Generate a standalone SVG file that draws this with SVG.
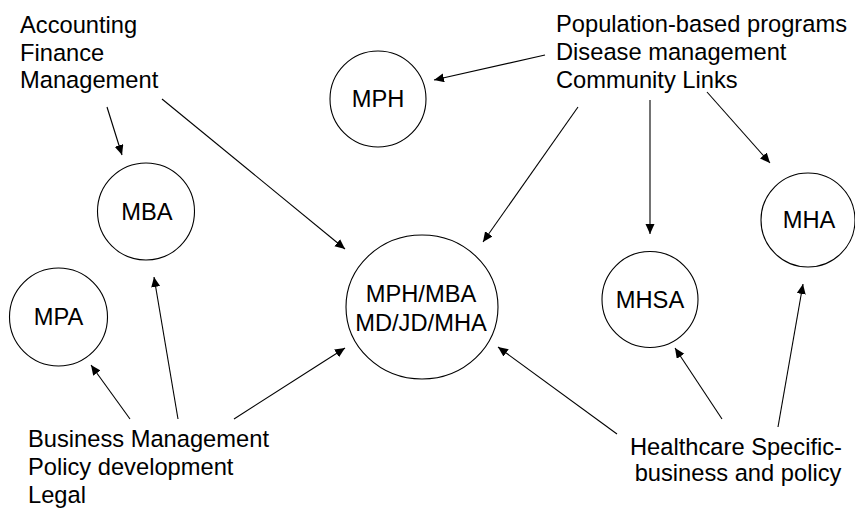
<svg xmlns="http://www.w3.org/2000/svg" width="855" height="510" viewBox="0 0 855 510">
<style>
.bg{fill:#ffffff}
.node circle,.node ellipse{fill:#ffffff;stroke:#000000;stroke-width:1.1}
text{font-family:"Liberation Sans",Arial,sans-serif;font-size:23.7px;fill:#000000}
.c{text-anchor:middle}
.edges line{stroke:#000000;stroke-width:1.1;marker-end:url(#ah)}
</style>
<defs>
<marker id="ah" markerUnits="userSpaceOnUse" markerWidth="12" markerHeight="10" refX="10" refY="4.5" orient="auto">
<path d="M0,0 L10,4.5 L0,9 Z" fill="#000000"/>
</marker>
</defs>
<rect class="bg" x="0" y="0" width="855" height="510"/>
<g id="label-accounting">
<text x="20" y="33">Accounting</text>
<text x="20" y="60.5">Finance</text>
<text x="20" y="88">Management</text>
</g>
<g id="label-population">
<text x="556" y="32">Population-based programs</text>
<text x="556" y="60">Disease management</text>
<text x="556" y="88">Community Links</text>
</g>
<g id="label-business">
<text x="28" y="447">Business Management</text>
<text x="28" y="475">Policy development</text>
<text x="28" y="503">Legal</text>
</g>
<g id="label-healthcare">
<text class="c" x="736" y="455">Healthcare Specific-</text>
<text class="c" x="738" y="481">business and policy</text>
</g>
<g id="node-mph" class="node">
<circle cx="378" cy="99" r="48"/>
<text class="c" x="378" y="107">MPH</text>
</g>
<g id="node-mba" class="node">
<circle cx="146" cy="211.5" r="48.5"/>
<text class="c" x="147" y="220">MBA</text>
</g>
<g id="node-mpa" class="node">
<circle cx="58.5" cy="317" r="49"/>
<text class="c" x="58.5" y="325">MPA</text>
</g>
<g id="node-center" class="node">
<ellipse cx="422" cy="307" rx="76" ry="72"/>
<text class="c" x="421" y="302">MPH/MBA</text>
<text class="c" x="421" y="331">MD/JD/MHA</text>
</g>
<g id="node-mhsa" class="node">
<circle cx="650" cy="299.5" r="48"/>
<text class="c" x="650" y="308">MHSA</text>
</g>
<g id="node-mha" class="node">
<circle cx="808" cy="220" r="47"/>
<text class="c" x="809" y="228">MHA</text>
</g>
<g id="connectors" class="edges">
<line x1="107" y1="107" x2="122" y2="155"/>
<line x1="162" y1="99" x2="345" y2="249"/>
<line x1="545" y1="55" x2="434" y2="80"/>
<line x1="578" y1="107" x2="483" y2="242"/>
<line x1="650" y1="100" x2="650" y2="234"/>
<line x1="707" y1="92" x2="770" y2="163"/>
<line x1="130" y1="419" x2="91" y2="365"/>
<line x1="178" y1="419" x2="154" y2="277"/>
<line x1="234" y1="419" x2="345" y2="348"/>
<line x1="617" y1="434" x2="498" y2="347"/>
<line x1="722" y1="419" x2="675" y2="348"/>
<line x1="778" y1="427" x2="803" y2="284"/>
</g>
</svg>
